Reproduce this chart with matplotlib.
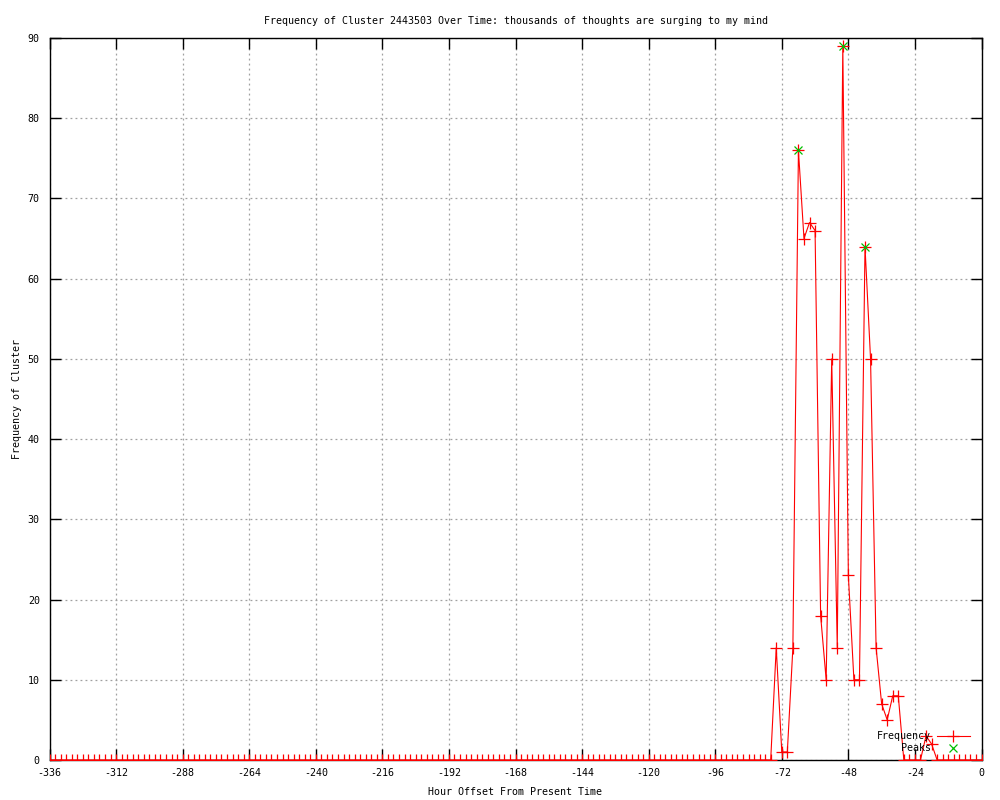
import numpy as np
import matplotlib
matplotlib.use("Agg")
import matplotlib.pyplot as plt

plt.rcParams['font.family'] = ['DejaVu Sans Mono']
plt.rcParams['axes.unicode_minus'] = False

# hours from -336 to 0, every 2 hours
hours = list(range(-336, 1, 2))
# non-zero frequencies (hour: value)
nonzero_hours = [-74, -72, -70, -68, -66, -64, -62, -60, -58, -56, -54, -52, -50,
                 -48, -46, -44, -42, -40, -38, -36, -34, -32, -30, -20, -18]
nonzero_vals = [14, 1, 1, 14, 76, 65, 67, 66, 18, 10, 50, 14, 89,
                23, 10, 10, 64, 50, 14, 7, 5, 8, 8, 3, 2]
lookup = dict(zip(nonzero_hours, nonzero_vals))
freq = [lookup.get(h, 0) for h in hours]

peak_hours = [-66, -50, -42]
peak_vals = [76, 89, 64]

x_ticks = list(range(-336, 1, 24))
y_ticks = list(range(0, 91, 10))

fs = 7.2

fig = plt.figure(figsize=(10, 8), dpi=100)
ax = fig.add_axes([0.0495, 0.05, 0.932, 0.9025])

ax.plot(hours, freq, color='#ff0000', linewidth=0.8, marker='+', markersize=8,
        markeredgewidth=0.9, label='Frequency', zorder=3)
ax.plot(peak_hours, peak_vals, linestyle='none', color='#00c000', marker='x',
        markersize=6, markeredgewidth=0.9, label='Peaks', zorder=4)

ax.set_xlim(-336, 0)
ax.set_ylim(0, 90)
ax.set_xticks(x_ticks)
ax.set_yticks(y_ticks)
ax.tick_params(direction='in', length=8, width=1, top=True, right=True,
               labelsize=fs)
ax.tick_params(axis='x', pad=6)
ax.tick_params(axis='y', pad=7)
ax.grid(True, color='#a0a0a0', linestyle=(0, (1.5, 2.5)), linewidth=0.9)
for s in ax.spines.values():
    s.set_linewidth(1)
    s.set_color('black')

ax.set_title('Frequency of Cluster 2443503 Over Time: thousands of thoughts are surging to my mind',
             fontsize=fs, pad=10)
ax.set_xlabel('Hour Offset From Present Time', fontsize=fs, labelpad=6)
ax.set_ylabel('Frequency of Cluster', fontsize=fs, labelpad=4)

leg = ax.legend(loc='lower right', frameon=False, fontsize=fs, markerfirst=False,
                handlelength=3.3, handletextpad=0.6, borderaxespad=0.3,
                labelspacing=0.2, bbox_to_anchor=(0.995, 0.0))

fig.savefig('out.png', dpi=100)
